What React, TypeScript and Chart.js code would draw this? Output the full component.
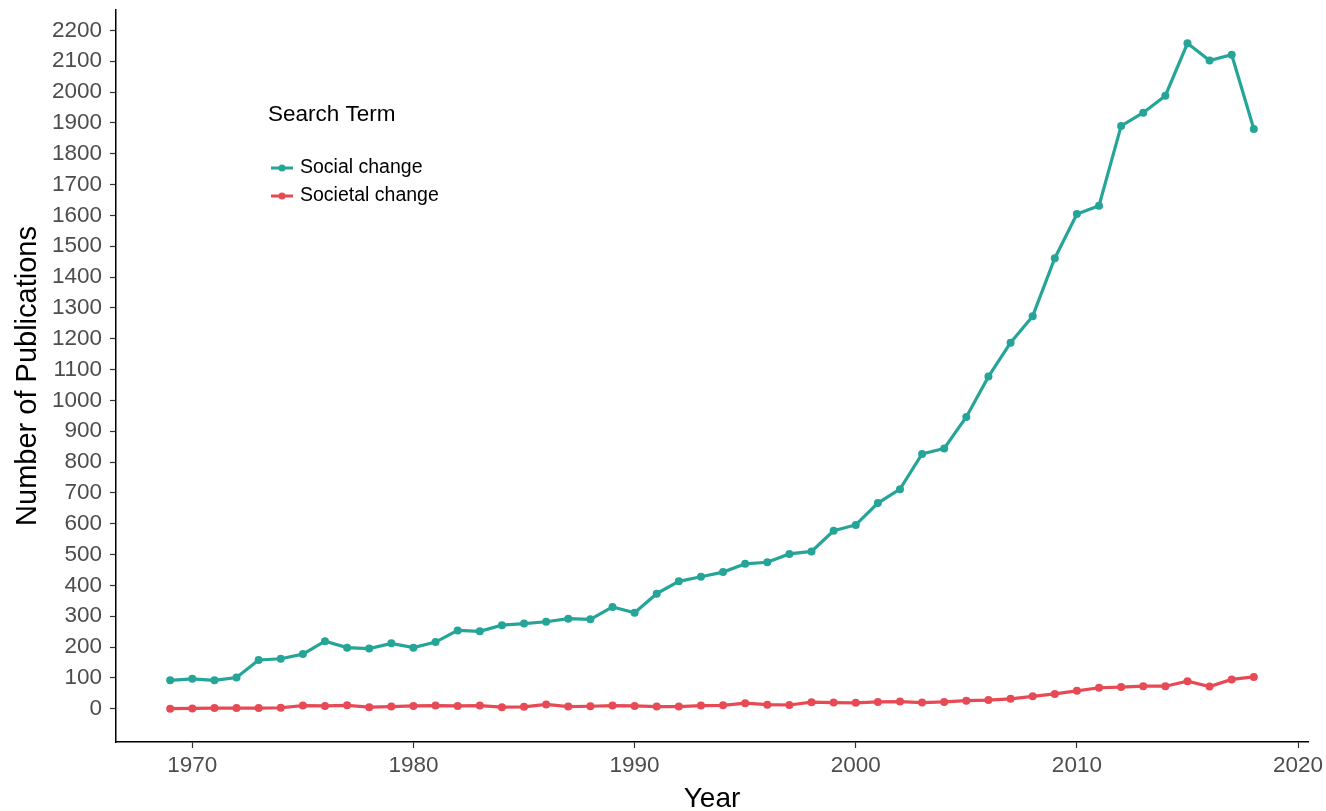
import React, { useEffect, useRef } from "react";
import { Chart, registerables } from "chart.js";

Chart.register(...registerables);

const years = [
  1969, 1970, 1971, 1972, 1973, 1974, 1975, 1976, 1977, 1978,
  1979, 1980, 1981, 1982, 1983, 1984, 1985, 1986, 1987, 1988,
  1989, 1990, 1991, 1992, 1993, 1994, 1995, 1996, 1997, 1998,
  1999, 2000, 2001, 2002, 2003, 2004, 2005, 2006, 2007, 2008,
  2009, 2010, 2011, 2012, 2013, 2014, 2015, 2016, 2017, 2018,
];

const socialChange = [
  92, 97, 92, 101, 158, 162, 177, 219, 198, 195,
  212, 198, 216, 254, 251, 271, 276, 282, 292, 290,
  330, 311, 373, 413, 428, 443, 470, 475, 502, 510,
  577, 596, 667, 712, 826, 844, 946, 1077, 1187, 1273,
  1461, 1604, 1631, 1890, 1933, 1988, 2158, 2102, 2121, 1880,
];

const societalChange = [
  0, 1, 2, 2, 2, 3, 10, 9, 11, 5,
  7, 9, 10, 9, 10, 5, 6, 14, 7, 8,
  10, 9, 7, 7, 10, 11, 18, 13, 12, 21,
  20, 19, 22, 23, 20, 22, 26, 28, 32, 40,
  48, 58, 68, 70, 73, 73, 89, 72, 95, 103,
];

const xTicks = [1970, 1980, 1990, 2000, 2010, 2020];
const yTicks = [
  0, 100, 200, 300, 400, 500, 600, 700, 800, 900, 1000, 1100,
  1200, 1300, 1400, 1500, 1600, 1700, 1800, 1900, 2000, 2100, 2200,
];

const seriesNames = ["Social change", "Societal change"];
const seriesColors = ["#25A598", "#E84A55"];
const legendTitle = "Search Term";

const FONT = "'Liberation Sans', Arial, Helvetica, sans-serif";

const legendPlugin = {
  id: "customLegend",
  afterDraw(chart: any) {
    const ctx = chart.ctx;
    ctx.save();
    ctx.textBaseline = "middle";
    ctx.textAlign = "left";
    ctx.fillStyle = "#000000";
    ctx.font = `22.5px ${FONT}`;
    ctx.fillText(legendTitle, 268, 115);
    chart.data.datasets.forEach((ds: any, i: number) => {
      const y = 168 + i * 28;
      ctx.strokeStyle = ds.borderColor;
      ctx.lineWidth = 3;
      ctx.beginPath();
      ctx.moveTo(271, y);
      ctx.lineTo(293, y);
      ctx.stroke();
      ctx.fillStyle = ds.borderColor;
      ctx.beginPath();
      ctx.arc(282, y, 3.5, 0, Math.PI * 2);
      ctx.fill();
      ctx.fillStyle = "#000000";
      ctx.font = `19.5px ${FONT}`;
      ctx.fillText(ds.label, 300, y);
    });
    ctx.restore();
  },
};

export default function App() {
  const ref = useRef<HTMLCanvasElement | null>(null);

  useEffect(() => {
    if (!ref.current) return;
    const datasets = [socialChange, societalChange].map((vals, i) => ({
      label: seriesNames[i],
      data: years.map((yr, j) => ({ x: yr, y: vals[j] })),
      borderColor: seriesColors[i],
      backgroundColor: seriesColors[i],
      borderWidth: 3.2,
      pointRadius: 4,
      pointBorderWidth: 0,
      pointBackgroundColor: seriesColors[i],
      tension: 0,
    }));
    const chart = new Chart(ref.current, {
      type: "line",
      data: { datasets },
      plugins: [legendPlugin],
      options: {
        animation: false,
        responsive: false,
        devicePixelRatio: 1,
        layout: { padding: { top: 10, right: 18, left: 0, bottom: 0 } },
        plugins: {
          legend: { display: false },
          tooltip: { enabled: false },
        },
        scales: {
          x: {
            type: "linear",
            min: 1966.55,
            max: 2020.45,
            afterBuildTicks: (scale: any) => {
              scale.ticks = xTicks.map((v) => ({ value: v }));
            },
            afterFit: (scale: any) => {
              scale.height = 69;
              scale.paddingLeft = 0;
              scale.paddingRight = 0;
            },
            grid: {
              display: true,
              drawOnChartArea: false,
              drawTicks: true,
              tickLength: 6,
              tickWidth: 1.2,
              tickColor: "#333333",
            },
            border: { display: true, color: "#000000", width: 1.5 },
            ticks: {
              color: "#4D4D4D",
              font: { family: FONT, size: 22.5 },
              padding: 4,
              maxRotation: 0,
              callback: (v: any) => String(v),
            },
            title: {
              display: true,
              text: "Year",
              color: "#000000",
              font: { family: FONT, size: 28, lineHeight: 0.6 },
              padding: { top: 0, bottom: 3 },
            },
          },
          y: {
            type: "linear",
            min: -108,
            max: 2266,
            afterBuildTicks: (scale: any) => {
              scale.ticks = yTicks.map((v) => ({ value: v }));
            },
            afterFit: (scale: any) => {
              scale.width = 116;
              scale.paddingTop = 0;
              scale.paddingBottom = 0;
            },
            grid: {
              display: true,
              drawOnChartArea: false,
              drawTicks: true,
              tickLength: 6,
              tickWidth: 1.2,
              tickColor: "#333333",
            },
            border: { display: true, color: "#000000", width: 1.5 },
            ticks: {
              color: "#4D4D4D",
              font: { family: FONT, size: 22.5 },
              padding: 8,
              callback: (v: any) => String(v),
            },
            title: {
              display: true,
              text: "Number of Publications",
              color: "#000000",
              font: { family: FONT, size: 29, lineHeight: 1.2 },
              padding: { top: 11, bottom: 0 },
            },
          },
        },
      },
    });
    return () => chart.destroy();
  }, []);

  return (
    <div
      style={{
        position: "absolute",
        left: 0,
        top: 0,
        width: 1326,
        height: 811,
        background: "#ffffff",
      }}
    >
      <canvas ref={ref} width={1326} height={811} />
    </div>
  );
}
